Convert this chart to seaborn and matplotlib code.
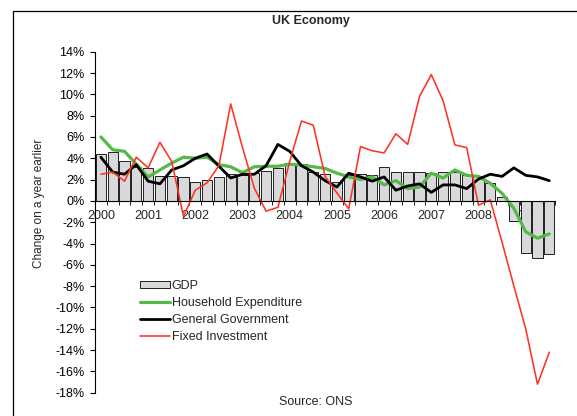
import numpy as np
import pandas as pd
import matplotlib
matplotlib.use("Agg")
import matplotlib.pyplot as plt
from matplotlib.ticker import FuncFormatter
from matplotlib.patches import Rectangle
import seaborn as sns

# ---- data (quarterly, 2000 Q1 .. 2009 Q3), % change on a year earlier ----
years = ["2000", "2001", "2002", "2003", "2004", "2005", "2006", "2007", "2008", "2009"]
quarters = [f"{y} Q{q}" for y in years for q in (1, 2, 3, 4)][:39]

gdp = [4.4, 4.6, 3.75, 3.2, 3.1, 2.3, 2.3, 2.2, 1.8, 2.0,
       2.2, 2.5, 2.45, 2.6, 2.85, 3.1, 3.6, 3.45, 2.7, 2.5,
       1.8, 2.4, 2.5, 2.4, 3.15, 2.75, 2.7, 2.75, 2.6, 2.7,
       2.7, 2.4, 2.3, 1.65, 0.4, -1.9, -4.9, -5.4, -5.0]

household = [6.0, 4.8, 4.65, 3.45, 2.25, 2.9, 3.55, 4.1, 4.0, 4.1,
             3.4, 3.2, 2.65, 3.2, 3.25, 3.25, 3.45, 3.35, 3.2, 3.05,
             2.6, 2.25, 2.0, 2.25, 1.5, 1.9, 1.15, 1.3, 2.6, 2.15,
             2.9, 2.4, 2.3, 1.65, 0.7, -0.7, -2.9, -3.5, -3.1]

government = [4.1, 2.7, 2.5, 3.4, 1.85, 1.6, 2.9, 3.3, 4.0, 4.4,
              3.25, 2.15, 2.5, 2.5, 3.3, 5.3, 4.65, 3.3, 2.7, 1.9,
              1.3, 2.6, 2.25, 1.85, 2.25, 1.0, 1.4, 1.6, 0.8, 1.5,
              1.5, 1.15, 2.05, 2.5, 2.3, 3.1, 2.4, 2.25, 1.9]

investment = [2.5, 2.7, 1.85, 4.1, 3.1, 5.5, 3.7, -1.45, 1.0, 1.7,
              3.3, 9.1, 5.0, 1.2, -0.97, -0.6, 3.7, 7.5, 7.1, 2.3,
              0.75, -0.75, 5.1, 4.7, 4.5, 6.3, 5.3, 9.8, 11.85, 9.4,
              5.25, 5.0, -0.4, 0.1, -3.9, -8.0, -12.0, -17.2, -14.2]

y_ticks = list(range(-18, 15, 2))

df = pd.DataFrame({"quarter": quarters, "pos": np.arange(len(quarters)),
                   "GDP": gdp, "Household Expenditure": household,
                   "General Government": government,
                   "Fixed Investment": investment})

sns.set_style("white")
plt.rcParams["font.family"] = ["Liberation Sans", "DejaVu Sans"]

W, H = 577, 416
fig = plt.figure(figsize=(W / 100, H / 100), dpi=100)
x0, x1 = 95, 555.2
ytop, ybot = 51.7, 392.7
ax = fig.add_axes([x0 / W, 1 - ybot / H, (x1 - x0) / W, (ybot - ytop) / H])

sns.barplot(data=df, x="quarter", y="GDP", color="#d9d9dc", edgecolor="black",
            linewidth=0.6, width=0.86, saturation=1, ax=ax, label="GDP", zorder=2)
sns.lineplot(data=df, x="pos", y="Household Expenditure", color="#55b848",
             linewidth=2.3, ax=ax, label="Household Expenditure", legend=False,
             sort=False, estimator=None, zorder=3)
sns.lineplot(data=df, x="pos", y="General Government", color="black",
             linewidth=2.0, ax=ax, label="General Government", legend=False,
             sort=False, estimator=None, zorder=4)
sns.lineplot(data=df, x="pos", y="Fixed Investment", color="#ff3322",
             linewidth=1.15, ax=ax, label="Fixed Investment", legend=False,
             sort=False, estimator=None, zorder=5)

ax.set_xlim(-0.5, len(quarters) - 0.5)
ax.set_ylim(-18, 14)
ax.set_yticks(y_ticks)
ax.yaxis.set_major_formatter(FuncFormatter(lambda v, p: f"{v:.0f}%"))
ax.tick_params(axis="y", direction="out", length=3.5, width=0.8, pad=4,
               labelsize=9, left=True, colors="black")

# category axis sitting at zero
ax.spines["bottom"].set_position(("data", 0))
for s in ("top", "right"):
    ax.spines[s].set_visible(False)
ax.spines["bottom"].set_color("black")
ax.spines["bottom"].set_linewidth(0.8)
ax.spines["bottom"].set_zorder(6)
ax.spines["left"].set_color("black")
ax.spines["left"].set_linewidth(0.8)

ax.set_xticks(np.arange(-0.5, len(quarters), 1.0), labels=[])
ax.set_xticks(np.arange(0, len(quarters), 4), labels=years, minor=True)
ax.tick_params(axis="x", which="major", direction="out", length=3, width=0.6,
               bottom=True, colors="black")
ax.tick_params(axis="x", which="minor", length=0, pad=6.5, labelsize=9,
               bottom=True)
ax.set_xlabel("")
ax.set_ylabel("Change on a year earlier", fontsize=8.5)
ax.yaxis.set_label_coords((45 - x0) / (x1 - x0), (ybot - 203) / (ybot - ytop))
ax.grid(False)
ax.set_facecolor("none")

handles, labels = ax.get_legend_handles_labels()
order = [labels.index(n) for n in ("GDP", "Household Expenditure",
                                   "General Government", "Fixed Investment")]
handles = [handles[i] for i in order]
labels = [labels[i] for i in order]
leg = ax.legend(handles, labels, loc="upper left",
                bbox_to_anchor=(140 / W, 1 - 280 / H),
                bbox_transform=fig.transFigure, frameon=False, fontsize=9,
                handlelength=2.4, handleheight=0.4, handletextpad=0.15,
                labelspacing=0.4, borderpad=0, borderaxespad=0)

fig.text(311 / W, 1 - 21 / H, "UK Economy", ha="center", va="center",
         fontsize=9, fontweight="bold")
fig.text(316 / W, 1 - 402 / H, "Source: ONS", ha="center", va="center",
         fontsize=9)

fig.add_artist(Rectangle((12.5 / W, -0.1), 1.2, 1.1 - 10.5 / H,
                         transform=fig.transFigure, fill=False,
                         edgecolor="black", linewidth=0.9))

fig.savefig("out.png", dpi=100)
